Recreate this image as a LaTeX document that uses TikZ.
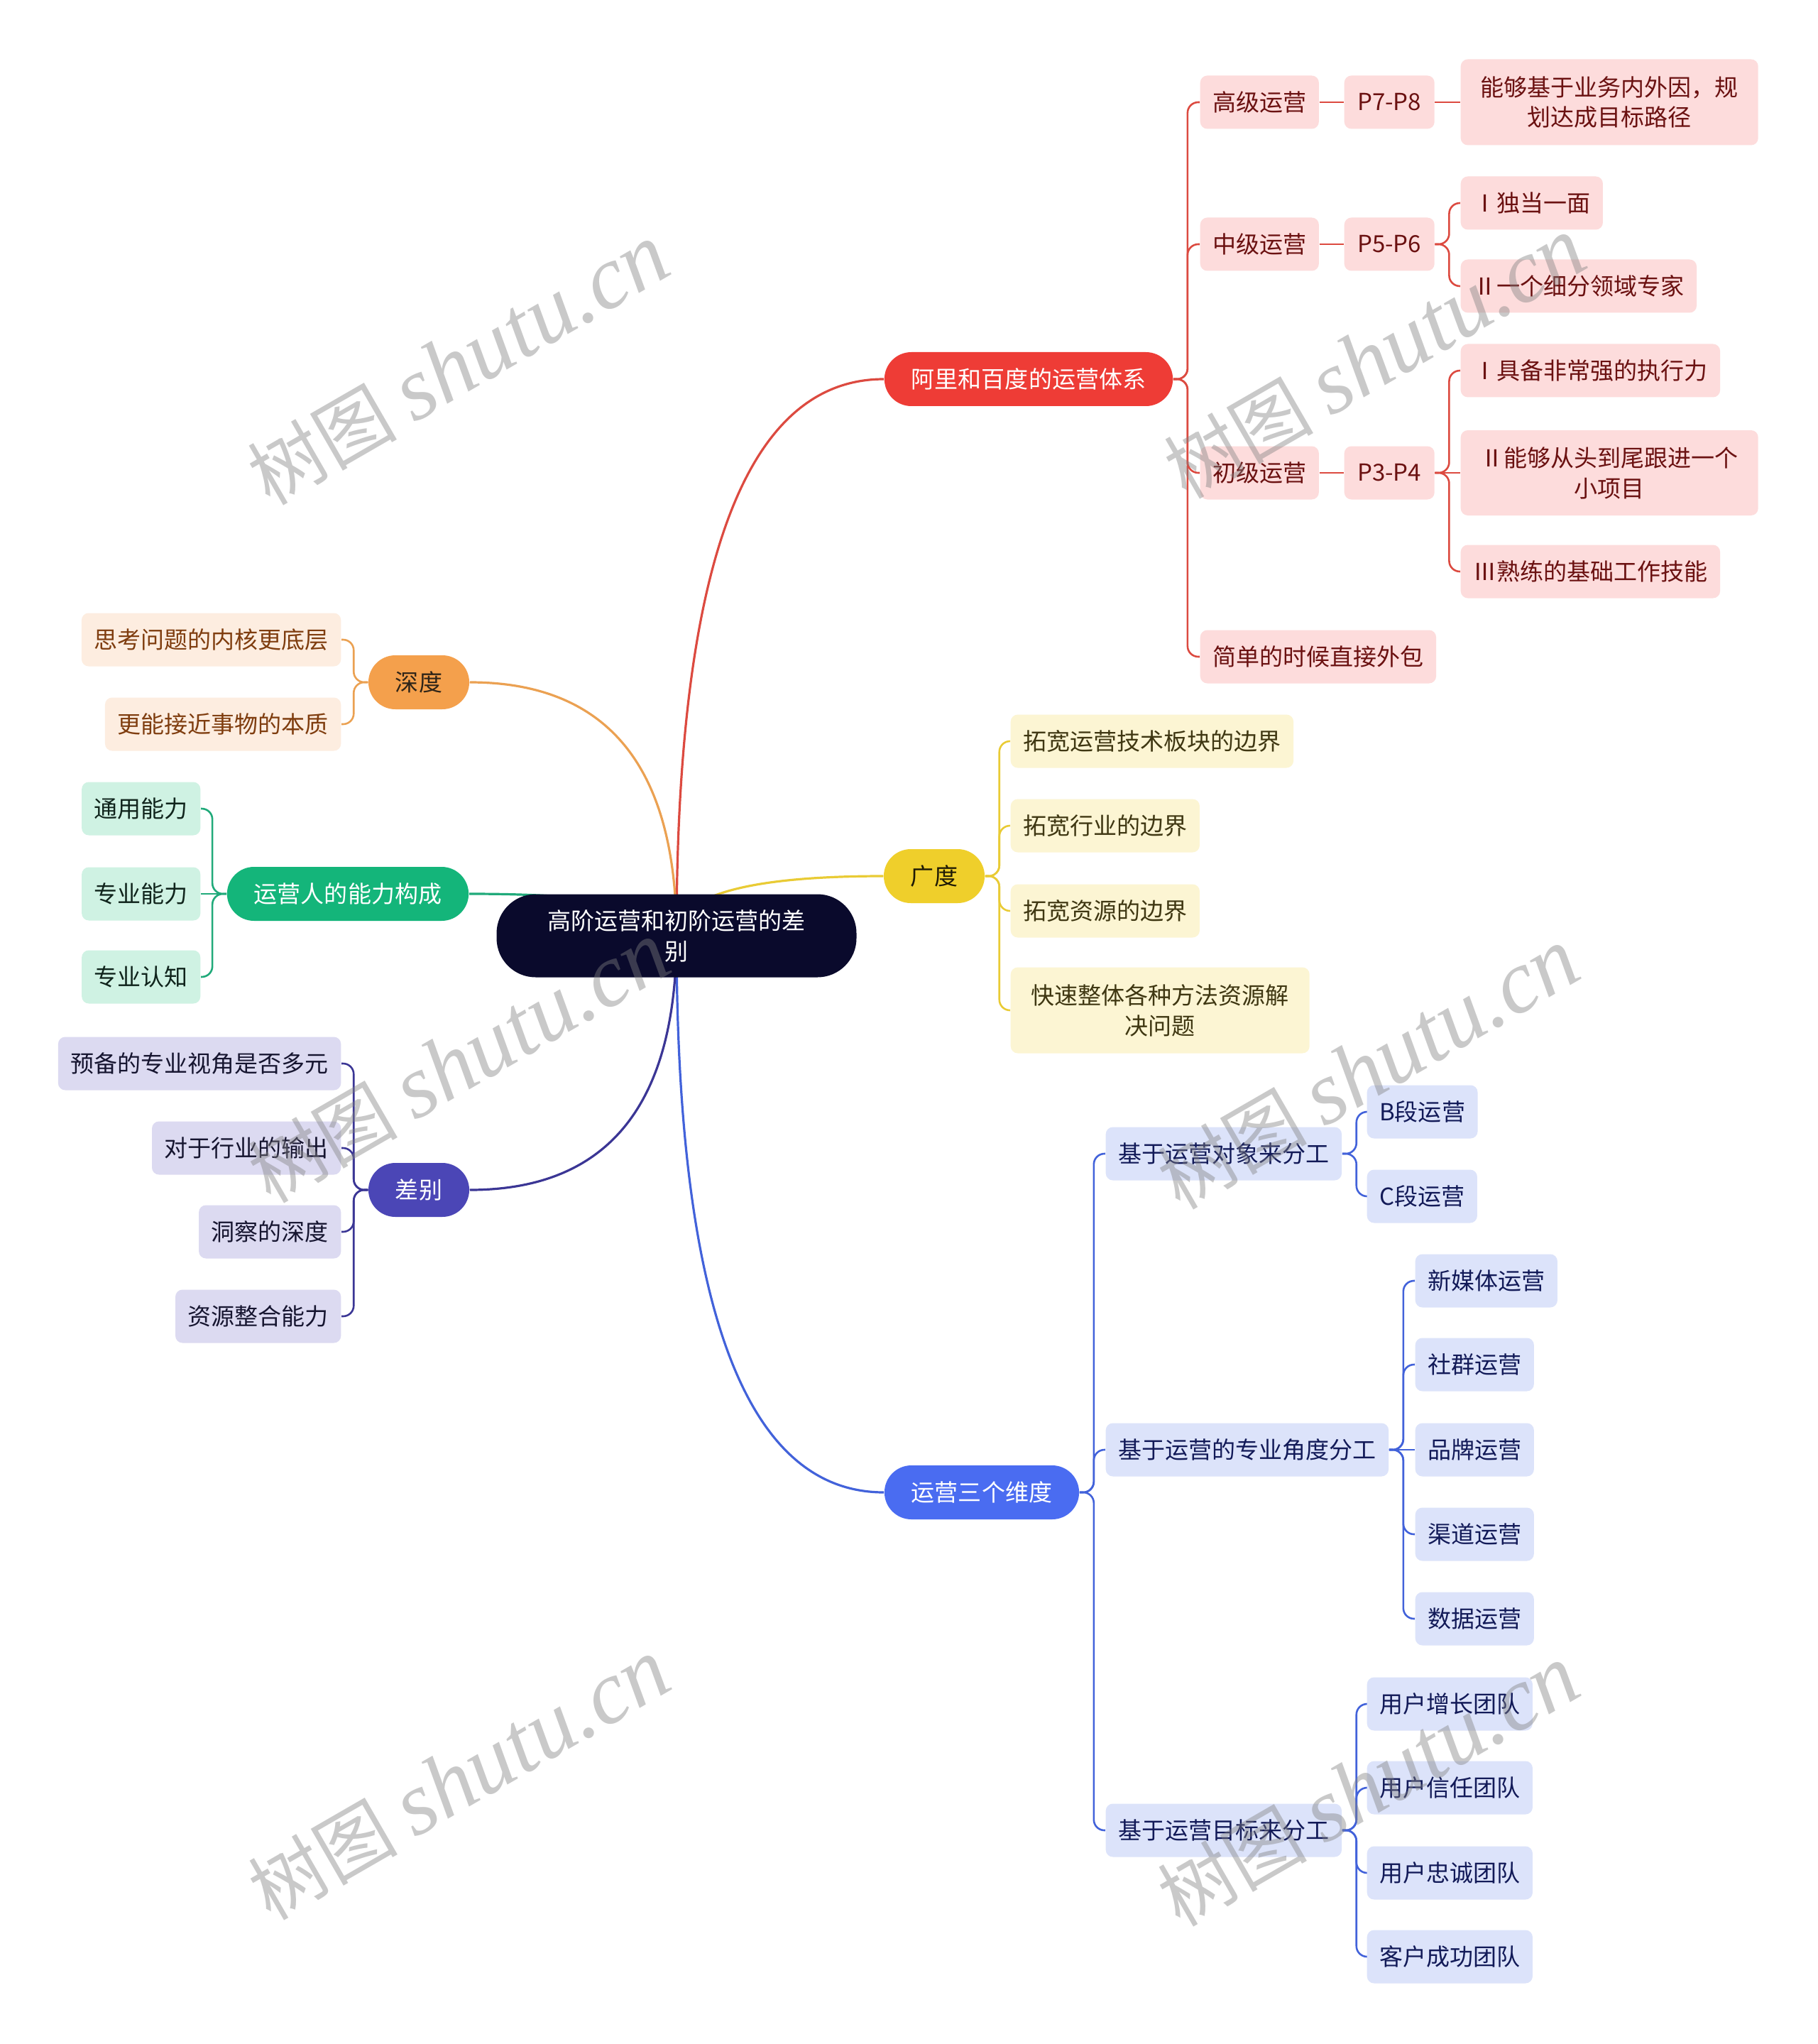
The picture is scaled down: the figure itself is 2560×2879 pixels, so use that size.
\documentclass[tikz,border=0pt]{standalone}
\usepackage{fontspec}
\setmainfont{Noto Sans CJK SC}
\newfontfamily\wmlat{Liberation Serif}
\usetikzlibrary{calc,backgrounds}
\definecolor{rootc}{HTML}{0A0A2C}
\definecolor{aliF}{HTML}{EE3C36}
\definecolor{redL}{HTML}{FDDCDC}
\definecolor{redT}{HTML}{6B1111}
\definecolor{redE}{HTML}{DC4A40}
\definecolor{shenF}{HTML}{F4A04C}
\definecolor{shenT}{HTML}{2E2418}
\definecolor{orgL}{HTML}{FDEDE0}
\definecolor{orgT}{HTML}{7F3D0F}
\definecolor{orgE}{HTML}{EBA152}
\definecolor{nengF}{HTML}{14B57A}
\definecolor{grnL}{HTML}{CFF2E3}
\definecolor{grnT}{HTML}{10241C}
\definecolor{grnE}{HTML}{20AA7A}
\definecolor{guangF}{HTML}{EFCF2B}
\definecolor{guangT}{HTML}{1E1A05}
\definecolor{yelL}{HTML}{FCF5D3}
\definecolor{yelT}{HTML}{3F3712}
\definecolor{yelE}{HTML}{E9CB35}
\definecolor{chaF}{HTML}{4B46B6}
\definecolor{purL}{HTML}{DCDAF1}
\definecolor{purT}{HTML}{161530}
\definecolor{purE}{HTML}{3B3695}
\definecolor{weiF}{HTML}{4A6CF1}
\definecolor{bluL}{HTML}{DCE3FA}
\definecolor{bluT}{HTML}{121A58}
\definecolor{bluE}{HTML}{4262DA}
\tikzset{
  base/.style={font=\fontsize{9.4pt}{12.2pt}\selectfont, align=center},
  leaf/.style={base, rectangle, rounded corners=1mm, inner xsep=1.75mm, inner ysep=0pt, minimum height=7.5mm},
  pill/.style={base, rectangle, rounded corners=3.8mm, inner xsep=3.8mm, inner ysep=0pt, minimum height=7.6mm},
  rleaf/.style={leaf, fill=redL, text=redT},
  oleaf/.style={leaf, fill=orgL, text=orgT},
  gleaf/.style={leaf, fill=grnL, text=grnT},
  yleaf/.style={leaf, fill=yelL, text=yelT},
  pleaf/.style={leaf, fill=purL, text=purT},
  bleaf/.style={leaf, fill=bluL, text=bluT},
  conn/.style={line width=0.26mm, rounded corners=1.5mm},
  trunk/.style={line width=0.32mm},
  wm/.style={text=gray, text opacity=0.42, rotate=30, inner sep=0pt},
}
\newcommand\brR[3]{\draw[conn,#1] (#2.east) -- ++(2mm,0) |- (#3.west);}
\newcommand\brL[3]{\draw[conn,#1] (#2.west) -- ++(-2mm,0) |- (#3.east);}
\newcommand\trkR[2]{\draw[trunk,#1] (root.center) .. controls ($(root.center)!0.6667!(root.center|-#2.west)$) and ($(#2.west)!0.6667!(root.center|-#2.west)$) .. (#2.west);}
\newcommand\trkL[2]{\draw[trunk,#1] (root.center) .. controls ($(root.center)!0.6667!(root.center|-#2.east)$) and ($(#2.east)!0.6667!(root.center|-#2.east)$) .. (#2.east);}
\begin{document}
\begin{tikzpicture}[x=0.1mm,y=-0.1mm]
\useasboundingbox (0,0) rectangle (2560,2879);
% root
\node[base, rectangle, rounded corners=5.5mm, fill=rootc, text=white, minimum width=50.7mm, minimum height=11.7mm, inner sep=0pt] (root) at (953,1318) {高阶运营和初阶运营的差\\别};
% main branches
\node[pill, fill=aliF, text=white] (ali) at (1449,534) {阿里和百度的运营体系};
\node[pill, fill=shenF, text=shenT] (shen) at (590,961) {深度};
\node[pill, fill=nengF, text=white] (neng) at (490,1259) {运营人的能力构成};
\node[pill, fill=guangF, text=guangT] (guang) at (1316,1234) {广度};
\node[pill, fill=chaF, text=white] (cha) at (590,1676) {差别};
\node[pill, fill=weiF, text=white] (wei) at (1383,2102) {运营三个维度};
% red subtree
\node[rleaf, anchor=west] (g1) at (1690,144) {高级运营};
\node[rleaf, anchor=west, minimum width=12.7mm] (p78) at (1893,144) {P7-P8};
\node[rleaf, anchor=west, minimum width=41.9mm, minimum height=12.1mm] (t1) at (2057,144) {能够基于业务内外因，规\\划达成目标路径};
\node[rleaf, anchor=west] (g2) at (1690,344) {中级运营};
\node[rleaf, anchor=west, minimum width=12.7mm] (p56) at (1893,344) {P5-P6};
\node[rleaf, anchor=west] (t21) at (2057,286) {Ⅰ独当一面};
\node[rleaf, anchor=west] (t22) at (2057,403) {Ⅱ一个细分领域专家};
\node[rleaf, anchor=west] (g3) at (1690,666) {初级运营};
\node[rleaf, anchor=west, minimum width=12.7mm] (p34) at (1893,666) {P3-P4};
\node[rleaf, anchor=west] (t31) at (2057,522) {Ⅰ具备非常强的执行力};
\node[rleaf, anchor=west, minimum width=41.9mm, minimum height=12mm] (t32) at (2057,666) {Ⅱ能够从头到尾跟进一个\\小项目};
\node[rleaf, anchor=west] (t33) at (2057,805) {Ⅲ熟练的基础工作技能};
\node[rleaf, anchor=west] (g4) at (1690,925) {简单的时候直接外包};
% yellow subtree
\node[yleaf, anchor=west] (y1) at (1423,1044) {拓宽运营技术板块的边界};
\node[yleaf, anchor=west] (y2) at (1423,1163) {拓宽行业的边界};
\node[yleaf, anchor=west] (y3) at (1423,1283) {拓宽资源的边界};
\node[yleaf, anchor=west, minimum width=42.1mm, minimum height=12.1mm] (y4) at (1423,1423) {快速整体各种方法资源解\\决问题};
% orange subtree
\node[oleaf, anchor=east] (o1) at (481,901) {思考问题的内核更底层};
\node[oleaf, anchor=east] (o2) at (481,1020) {更能接近事物的本质};
% green subtree
\node[gleaf, anchor=east] (n1) at (283,1139) {通用能力};
\node[gleaf, anchor=east] (n2) at (283,1259) {专业能力};
\node[gleaf, anchor=east] (n3) at (283,1376) {专业认知};
% purple subtree
\node[pleaf, anchor=east] (c1) at (481,1498) {预备的专业视角是否多元};
\node[pleaf, anchor=east] (c2) at (481,1617) {对于行业的输出};
\node[pleaf, anchor=east] (c3) at (481,1735) {洞察的深度};
\node[pleaf, anchor=east] (c4) at (481,1854) {资源整合能力};
% blue subtree
\node[bleaf, anchor=west] (w1) at (1557,1625) {基于运营对象来分工};
\node[bleaf, anchor=west] (w11) at (1925,1566) {B段运营};
\node[bleaf, anchor=west] (w12) at (1925,1685) {C段运营};
\node[bleaf, anchor=west] (w2) at (1557,2042) {基于运营的专业角度分工};
\node[bleaf, anchor=west] (w21) at (1993,1804) {新媒体运营};
\node[bleaf, anchor=west] (w22) at (1993,1922) {社群运营};
\node[bleaf, anchor=west] (w23) at (1993,2042) {品牌运营};
\node[bleaf, anchor=west] (w24) at (1993,2161) {渠道运营};
\node[bleaf, anchor=west] (w25) at (1993,2280) {数据运营};
\node[bleaf, anchor=west] (w3) at (1557,2578) {基于运营目标来分工};
\node[bleaf, anchor=west] (w31) at (1925,2400) {用户增长团队};
\node[bleaf, anchor=west] (w32) at (1925,2518) {用户信任团队};
\node[bleaf, anchor=west] (w33) at (1925,2638) {用户忠诚团队};
\node[bleaf, anchor=west] (w34) at (1925,2756) {客户成功团队};
% connectors
\begin{scope}[on background layer]
\fill[white] (0,0) rectangle (2560,2879);
\trkR{redE}{ali}
\trkR{yelE}{guang}
\trkR{bluE}{wei}
\trkL{orgE}{shen}
\trkL{grnE}{neng}
\trkL{purE}{cha}
% red
\brR{redE}{ali}{g1}
\brR{redE}{ali}{g2}
\brR{redE}{ali}{g3}
\brR{redE}{ali}{g4}
\draw[conn,redE] (g1) -- (p78);
\draw[conn,redE] (p78) -- (t1);
\draw[conn,redE] (g2) -- (p56);
\draw[conn,redE] (g3) -- (p34);
\brR{redE}{p56}{t21}
\brR{redE}{p56}{t22}
\brR{redE}{p34}{t31}
\draw[conn,redE] (p34) -- (t32);
\brR{redE}{p34}{t33}
% yellow
\brR{yelE}{guang}{y1}
\brR{yelE}{guang}{y2}
\brR{yelE}{guang}{y3}
\brR{yelE}{guang}{y4}
% orange
\brL{orgE}{shen}{o1}
\brL{orgE}{shen}{o2}
% green
\brL{grnE}{neng}{n1}
\draw[conn,grnE] (neng) -- (n2);
\brL{grnE}{neng}{n3}
% purple
\brL{purE}{cha}{c1}
\brL{purE}{cha}{c2}
\brL{purE}{cha}{c3}
\brL{purE}{cha}{c4}
% blue
\brR{bluE}{wei}{w1}
\brR{bluE}{wei}{w2}
\brR{bluE}{wei}{w3}
\brR{bluE}{w1}{w11}
\brR{bluE}{w1}{w12}
\brR{bluE}{w2}{w21}
\brR{bluE}{w2}{w22}
\draw[conn,bluE] (w2) -- (w23);
\brR{bluE}{w2}{w24}
\brR{bluE}{w2}{w25}
\brR{bluE}{w3}{w31}
\brR{bluE}{w3}{w32}
\brR{bluE}{w3}{w33}
\brR{bluE}{w3}{w34}
\end{scope}
% watermarks
\foreach \i/\p in {1/{(646,514)},2/{(1937,505)},3/{(647,1497)},4/{(1928,1506)},5/{(647,2507)},6/{(1928,2516)}}{
  \node[wm] (wm\i) at \p {\fontsize{30pt}{30pt}\selectfont 树图 {\wmlat\itshape\fontsize{36pt}{36pt}\selectfont shutu.cn}};
}
\end{tikzpicture}
\end{document}
